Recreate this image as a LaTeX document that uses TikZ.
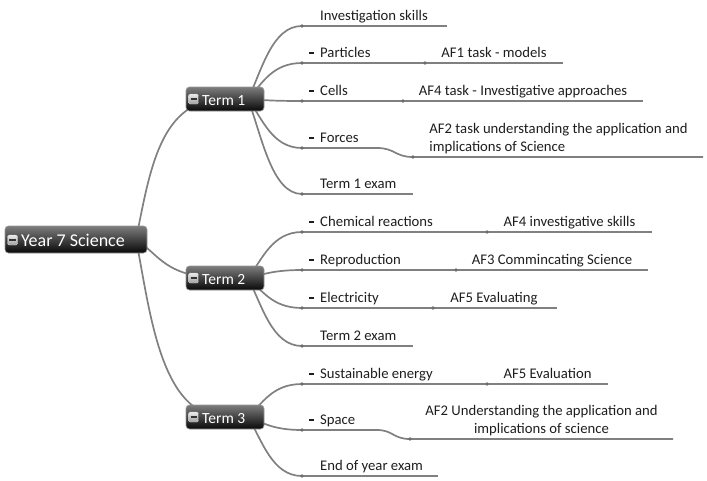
\documentclass[tikz,border=0pt]{standalone}
\usepackage{fontspec}
\setmainfont{Carlito}
\definecolor{linegray}{RGB}{128,128,128}
\definecolor{dotgray}{RGB}{110,110,110}
\definecolor{txt}{RGB}{30,30,30}
\definecolor{boxtop}{RGB}{125,125,125}
\definecolor{boxbot}{RGB}{8,8,8}
\definecolor{boxedge}{RGB}{150,150,150}
\begin{document}
\begin{tikzpicture}[x=1pt,y=-1pt,
  conn/.style={draw=linegray, line width=1.7pt},
  dotc/.style={circle, fill=dotgray, inner sep=0pt, minimum size=3.8pt},
  lvone/.style={anchor=base west, inner sep=0pt, text=txt, font=\fontsize{14.7}{18}\selectfont},
  lvtwo/.style={anchor=base, inner sep=0pt, text=txt, font=\fontsize{14.7}{18}\selectfont},
  termbox/.style={rounded corners=3.5pt, top color=boxtop, bottom color=boxbot, draw=boxedge, line width=0.6pt, minimum width=78pt, minimum height=24pt, inner sep=0pt},
  rootbox/.style={termbox, minimum width=142pt, minimum height=27pt},
  termtext/.style={anchor=base west, inner sep=0pt, text=white, font=\fontsize{15.5}{18}\selectfont},
  roottext/.style={anchor=base west, inner sep=0pt, text=white, font=\fontsize{18}{20}\selectfont},
  iconbox/.style={rounded corners=1.5pt, top color=gray!15, bottom color=gray!75, draw=gray!45, line width=0.4pt, minimum size=10pt, inner sep=0pt},
  iconminus/.style={draw=black!80, line width=1.5pt},
  dashmark/.style={fill=txt, inner sep=0pt, minimum width=5pt, minimum height=2pt}
]
\useasboundingbox (0,0) rectangle (707,480);

% ---- points ----
\coordinate (a1) at (302,26);   \coordinate (a1e) at (447,26);
\coordinate (a2) at (302,63);   \coordinate (b2) at (425,63);   \coordinate (b2e) at (563,63);
\coordinate (a3) at (302,101);  \coordinate (b3) at (403,101);  \coordinate (b3e) at (643,101);
\coordinate (a4) at (302,148);  \coordinate (a4m) at (377,148); \coordinate (b4) at (413,157); \coordinate (b4e) at (703,157);
\coordinate (a5) at (302,194);  \coordinate (a5e) at (413,194);
\coordinate (a6) at (302,232);  \coordinate (b6) at (487,232);  \coordinate (b6e) at (652,232);
\coordinate (a7) at (302,270);  \coordinate (b7) at (456,270);  \coordinate (b7e) at (648,270);
\coordinate (a8) at (302,308);  \coordinate (b8) at (433,308);  \coordinate (b8e) at (557,308);
\coordinate (a9) at (302,346);  \coordinate (a9e) at (413,346);
\coordinate (a10) at (302,384); \coordinate (b10) at (487,384); \coordinate (b10e) at (608,384);
\coordinate (a11) at (302,430); \coordinate (a11m) at (377,430); \coordinate (b11) at (410,439); \coordinate (b11e) at (673,439);
\coordinate (a12) at (302,476); \coordinate (a12e) at (438,476);

\coordinate (rootc) at (76,239.5);
\coordinate (t1c) at (225,99);
\coordinate (t2c) at (225,278);
\coordinate (t3c) at (225,417);

% ---- root to terms ----
\draw[conn] ([xshift=60pt]rootc) .. controls (150,170) and (160,99) .. (t1c);
\draw[conn] ([xshift=60pt]rootc) .. controls (160,255) and (165,278) .. (t2c);
\draw[conn] ([xshift=60pt]rootc) .. controls (150,310) and (160,417) .. (t3c);

% ---- term 1 ----
\draw[conn] ([xshift=23pt]t1c) .. controls (262,70) and (272,26) .. (a1);
\draw[conn] ([xshift=23pt]t1c) .. controls (262,84) and (272,63) .. (a2);
\draw[conn] ([xshift=23pt]t1c) .. controls (262,100) and (272,101) .. (a3);
\draw[conn] ([xshift=23pt]t1c) .. controls (262,118) and (272,148) .. (a4);
\draw[conn] ([xshift=23pt]t1c) .. controls (262,137) and (272,194) .. (a5);
% ---- term 2 ----
\draw[conn] ([xshift=23pt]t2c) .. controls (262,260) and (272,232) .. (a6);
\draw[conn] ([xshift=23pt]t2c) .. controls (262,275) and (272,270) .. (a7);
\draw[conn] ([xshift=23pt]t2c) .. controls (262,290) and (272,308) .. (a8);
\draw[conn] ([xshift=23pt]t2c) .. controls (262,305) and (272,346) .. (a9);
% ---- term 3 ----
\draw[conn] ([xshift=23pt]t3c) .. controls (262,404) and (272,384) .. (a10);
\draw[conn] ([xshift=23pt]t3c) .. controls (262,422) and (272,430) .. (a11);
\draw[conn] ([xshift=23pt]t3c) .. controls (262,440) and (272,476) .. (a12);

% ---- underlines ----
\draw[conn] (a1) -- (a1e);
\draw[conn] (a2) -- (b2) -- (b2e);
\draw[conn] (a3) -- (b3) -- (b3e);
\draw[conn] (a4) -- (a4m) .. controls (395,148) and (395,157) .. (b4) -- (b4e);
\draw[conn] (a5) -- (a5e);
\draw[conn] (a6) -- (b6) -- (b6e);
\draw[conn] (a7) -- (b7) -- (b7e);
\draw[conn] (a8) -- (b8) -- (b8e);
\draw[conn] (a9) -- (a9e);
\draw[conn] (a10) -- (b10) -- (b10e);
\draw[conn] (a11) -- (a11m) .. controls (393,430) and (393,439) .. (b11) -- (b11e);
\draw[conn] (a12) -- (a12e);

% ---- dots ----
\foreach \p in {a1,a2,b2,a3,b3,a4,b4,a5,a6,b6,a7,b7,a8,b8,a9,a10,b10,a11,b11,a12}
  \node[dotc] (dot-\p) at (\p) {};

% ---- boxes ----
\node[rootbox] (root) at (rootc) {};
\node[iconbox] (ic0) at (12.5,240) {};
\draw[iconminus] ([xshift=-3.2pt]ic0.center) -- ([xshift=3.2pt]ic0.center);
\node[roottext] (rootlbl) at (21,246) {Year 7 Science};

\node[termbox] (T1) at (t1c) {};
\node[iconbox] (ic1) at (193.5,99) {};
\draw[iconminus] ([xshift=-3pt]ic1.center) -- ([xshift=3pt]ic1.center);
\node[termtext] (T1lbl) at (202,105.5) {Term 1};

\node[termbox] (T2) at (t2c) {};
\node[iconbox] (ic2) at (193.5,278) {};
\draw[iconminus] ([xshift=-3pt]ic2.center) -- ([xshift=3pt]ic2.center);
\node[termtext] (T2lbl) at (202,284.5) {Term 2};

\node[termbox] (T3) at (t3c) {};
\node[iconbox] (ic3) at (193.5,417) {};
\draw[iconminus] ([xshift=-3pt]ic3.center) -- ([xshift=3pt]ic3.center);
\node[termtext] (T3lbl) at (202,423.5) {Term 3};

% ---- dashes ----
\foreach \y/\n in {63/2,101/3,148/4,232/6,270/7,308/8,384/10,430/11}
  \node[dashmark] (dash\n) at (311.5,\y-10) {};

% ---- level 1 texts ----
\node[lvone] (l1) at (320,20.5) {Investigation skills};
\node[lvone] (l2) at (320,57.5) {Particles};
\node[lvone] (l3) at (320,95.5) {Cells};
\node[lvone] (l4) at (320,142.5) {Forces};
\node[lvone] (l5) at (320,188.5) {Term 1 exam};
\node[lvone] (l6) at (320,226.5) {Chemical reactions};
\node[lvone] (l7) at (320,264.5) {Reproduction};
\node[lvone] (l8) at (320,302.5) {Electricity};
\node[lvone] (l9) at (320,340.5) {Term 2 exam};
\node[lvone] (l10) at (320,378.5) {Sustainable energy};
\node[lvone] (l11) at (320,424.5) {Space};
\node[lvone] (l12) at (320,470.5) {End of year exam};

% ---- level 2 texts ----
\node[lvtwo] (m2) at (494,57.5) {AF1 task - models};
\node[lvtwo] (m3) at (523,95.5) {AF4 task - Investigative approaches};
\node[lvtwo, align=left] (m4) at (558.5,151.5) {AF2 task understanding the application and\\implications of Science};
\node[lvtwo] (m6) at (569.5,226.5) {AF4 investigative skills};
\node[lvtwo] (m7) at (552,264.5) {AF3 Commincating Science};
\node[lvtwo] (m8) at (494,302.5) {AF5 Evaluating};
\node[lvtwo] (m10) at (547.5,378.5) {AF5 Evaluation};
\node[lvtwo, align=center] (m11) at (541.5,433.5) {AF2 Understanding the application and\\implications of science};
\end{tikzpicture}
\end{document}
